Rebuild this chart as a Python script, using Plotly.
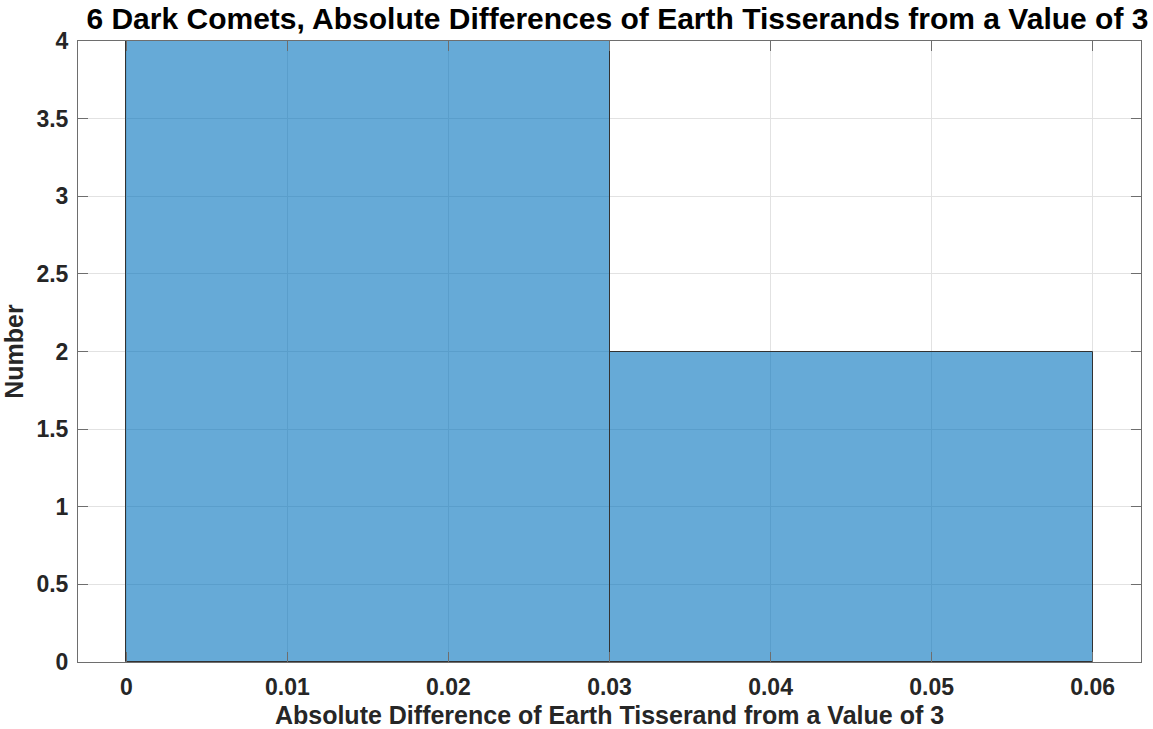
import plotly.graph_objects as go

# Data
bin_edges = [0.0, 0.03, 0.06]
counts = [4, 2]
x_ticks = [0, 0.01, 0.02, 0.03, 0.04, 0.05, 0.06]
x_tick_labels = ["0", "0.01", "0.02", "0.03", "0.04", "0.05", "0.06"]
y_ticks = [0, 0.5, 1, 1.5, 2, 2.5, 3, 3.5, 4]
y_tick_labels = ["0", "0.5", "1", "1.5", "2", "2.5", "3", "3.5", "4"]

centers = [(a + b) / 2 for a, b in zip(bin_edges[:-1], bin_edges[1:])]
widths = [b - a for a, b in zip(bin_edges[:-1], bin_edges[1:])]

FONT = "Liberation Sans, Arial, Helvetica, sans-serif"
AX = "rgb(38,38,38)"

fig = go.Figure(
    go.Bar(
        x=centers,
        y=counts,
        width=widths,
        marker=dict(color="rgba(0,114,189,0.6)", line=dict(color="rgb(50,50,50)", width=1)),
        hoverinfo="x+y",
    )
)

axis_common = dict(
    showline=True,
    linecolor="rgb(110,110,110)",
    linewidth=1,
    mirror="ticks",
    ticks="inside",
    ticklen=10,
    tickcolor="rgb(110,110,110)",
    showgrid=True,
    gridcolor="rgb(226,226,226)",
    gridwidth=1,
    zeroline=False,
    automargin=False,
    tickfont=dict(family=FONT, size=23, color=AX, weight="bold"),
)

fig.update_layout(
    width=1153,
    height=729,
    margin=dict(l=78, r=12, t=41, b=67),
    paper_bgcolor="white",
    plot_bgcolor="white",
    showlegend=False,
    title=dict(
        text="<b>6 Dark Comets, Absolute Differences of Earth Tisserands from a Value of 3</b>",
        font=dict(family=FONT, size=30, color="black"),
        x=0.5355,
        xanchor="center",
        y=0.975,
        yanchor="middle",
    ),
    xaxis=dict(
        axis_common,
        range=[-0.003, 0.063],
        tickvals=x_ticks,
        ticktext=x_tick_labels,
        ticklabelstandoff=4,
        title=dict(
            text="<b>Absolute Difference of Earth Tisserand from a Value of 3</b>",
            font=dict(family=FONT, size=25, color=AX),
            standoff=8,
        ),
    ),
    yaxis=dict(
        axis_common,
        range=[0, 4],
        tickvals=y_ticks,
        ticktext=y_tick_labels,
        ticklabelstandoff=4,
        title=dict(
            text="<b>Number</b>",
            font=dict(family=FONT, size=25, color=AX),
            standoff=6,
        ),
    ),
    bargap=0,
)

fig.write_html(
    "out.html",
    config={"displayModeBar": False},
    post_script="document.body.style.margin='0';document.body.style.overflow='hidden';",
)
